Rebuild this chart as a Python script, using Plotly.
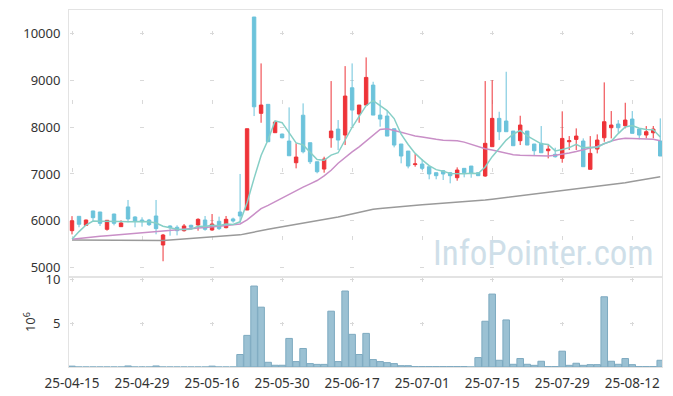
import plotly.graph_objects as go
from plotly.subplots import make_subplots

dates = ["25-04-15","25-04-16","25-04-17","25-04-18","25-04-21","25-04-22","25-04-23","25-04-24","25-04-25","25-04-28",
         "25-04-29","25-04-30","25-05-02","25-05-07","25-05-08","25-05-09","25-05-12","25-05-13","25-05-14","25-05-15",
         "25-05-16","25-05-19","25-05-20","25-05-21","25-05-22","25-05-23","25-05-26","25-05-27","25-05-28","25-05-29",
         "25-05-30","25-06-02","25-06-04","25-06-05","25-06-09","25-06-10","25-06-11","25-06-12","25-06-13","25-06-16",
         "25-06-17","25-06-18","25-06-19","25-06-20","25-06-23","25-06-24","25-06-25","25-06-26","25-06-27","25-06-30",
         "25-07-01","25-07-02","25-07-03","25-07-04","25-07-07","25-07-08","25-07-09","25-07-10","25-07-11","25-07-14",
         "25-07-15","25-07-16","25-07-17","25-07-18","25-07-21","25-07-22","25-07-23","25-07-24","25-07-25","25-07-28",
         "25-07-29","25-07-30","25-07-31","25-08-01","25-08-04","25-08-05","25-08-06","25-08-07","25-08-08","25-08-11",
         "25-08-12","25-08-13","25-08-14","25-08-18","25-08-19"]

open_ = [5790,6096,5904,6210,6188,5819,6145,5875,6296,6082,
         6017,6017,6103,5484,5890,5862,5789,5904,5911,6017,
         5804,5990,5854,6040,6188,6231,10350,8294,8486,7881,
         7852,7703,7240,8254,7667,7261,7105,7773,7958,7831,
         8840,8279,8471,8897,8257,8236,7965,7639,7489,7200,
         7212,7155,7027,7070,7027,6920,7120,7169,7027,6956,
         7582,8187,8130,7916,7710,7916,7639,7654,7496,7419,
         7333,7688,7738,7703,7099,7532,7773,7987,8066,8030,
         8172,7958,7831,7880,7703]
high = [6100,6100,6025,6215,6190,6015,6150,6011,6445,6096,
        6075,6040,6445,5719,5904,5904,5932,5918,6054,6103,
        6145,6089,6103,6068,7000,7966,10350,9360,8486,8120,
        7860,8421,7654,8507,7667,7261,7368,8983,8151,9302,
        9360,8471,9488,8968,8577,8349,7965,7639,7489,7425,
        7318,7155,7027,7084,7041,7141,7120,7169,7027,8983,
        9004,8328,9182,7916,8243,7916,7639,8023,7639,7560,
        8337,7809,7973,7760,7809,7845,8955,8343,8151,8520,
        8343,7958,8023,8023,8187]
low = [5710,5862,5890,5997,5890,5789,5904,5870,5968,5862,
       5875,5890,5712,5137,5683,5690,5770,5830,5789,5789,
       5789,5804,5840,5961,5961,6231,8236,8093,7688,7881,
       7760,7389,7120,7440,7212,7014,7027,7560,7511,7617,
       8009,8093,8471,8257,8009,7809,7568,7227,7120,7155,
       7084,6886,6886,6871,6800,6856,6928,6920,6956,6941,
       7582,7724,7902,7603,7617,7617,7404,7453,7333,7350,
       7240,7511,7511,7155,7099,7440,7688,7760,7880,7973,
       7867,7739,7760,7760,7383]
close = [6000,5926,6017,6067,5947,6011,5947,5954,6040,5996,
         5982,5918,5833,5697,5854,5789,5890,5862,6032,5819,
         5932,5833,6032,5996,6103,7966,8434,8471,7688,8108,
         7773,7389,7361,7474,7261,7048,7318,7916,7724,8663,
         8364,8471,9061,8257,8172,7809,7617,7383,7169,7215,
         7120,7000,6963,7000,6963,7084,7027,7014,6963,7654,
         8187,7902,7902,7603,8044,7617,7496,7453,7532,7368,
         7759,7710,7809,7155,7440,7724,8115,8044,7987,8151,
         7867,7831,7902,7958,7383]

ma5 = [5606,5770,5910,5996,5991,5994,5998,5985,5980,5990,
       5984,5978,5954,5885,5857,5818,5813,5818,5885,5878,
       5907,5896,5930,5922,5979,6386,6906,7394,7732,8133,
       8095,7886,7664,7621,7452,7307,7292,7403,7453,7734,
       7997,8228,8457,8563,8465,8354,8183,7848,7630,7439,
       7301,7177,7093,7060,7009,7002,7007,7018,7010,7148,
       7369,7544,7722,7850,7928,7814,7732,7643,7628,7493,
       7522,7562,7634,7558,7573,7566,7649,7696,7862,8004,
       8033,7976,7948,7942,7788]
ma20 = [5606,5625,5640,5655,5668,5680,5692,5705,5718,5730,
        5745,5755,5765,5778,5790,5800,5810,5830,5845,5860,
        5872,5885,5900,5915,5932,6020,6150,6260,6330,6410,
        6480,6560,6640,6720,6790,6860,6960,7080,7230,7360,
        7470,7580,7700,7840,7950,7965,7935,7890,7850,7810,
        7790,7760,7740,7720,7715,7710,7680,7630,7585,7540,
        7510,7475,7440,7410,7400,7395,7385,7383,7385,7400,
        7420,7450,7480,7525,7555,7585,7640,7705,7740,7760,
        7755,7750,7745,7740,7710]
ma60 = [5592,5590,5588,5586,5585,5584,5583,5582,5581,5580,
        5580,5579,5578,5580,5590,5600,5610,5620,5632,5643,
        5653,5664,5675,5688,5700,5730,5765,5795,5820,5845,
        5870,5895,5920,5945,5970,5995,6020,6045,6080,6115,
        6150,6185,6220,6245,6265,6280,6295,6308,6320,6332,
        6342,6352,6362,6372,6382,6393,6403,6415,6430,6445,
        6462,6480,6497,6514,6531,6548,6565,6582,6600,6618,
        6636,6654,6672,6690,6707,6725,6745,6768,6790,6812,
        6840,6865,6890,6915,6941]

volume = [0.10,0,0,0,0,0,0,0,0.12,0,
          0,0,0.12,0,0,0,0,0,0,0,
          0.10,0,0,0,1.43,3.62,9.27,6.85,0.54,0.20,
          0.20,3.27,0.62,2.12,0.39,0.30,0.30,6.39,0.62,8.70,
          3.74,1.43,3.85,0.85,0.62,0.50,0.39,0.15,0.15,0.05,
          0.05,0.05,0.05,0.05,0.05,0.05,0.05,0,1.08,5.24,
          8.35,0.77,5.39,0.31,0.97,0.31,0.19,0.66,0.05,0.05,
          1.81,0.19,0.43,0.19,0.27,0.27,8.04,0.66,0.31,0.97,
          0.27,0.05,0.05,0.05,0.77]

price_ticks = [5000, 6000, 7000, 8000, 9000, 10000]
price_ticktext = ["5000", "6000", "7000", "8000", "9000", "10000"]
vol_ticks = [5, 10]
vol_ticktext = ["5", "10"]

tick_idx = list(range(0, 85, 10))
tick_dates = [dates[i] for i in tick_idx]

UP = "#ee3338"
DOWN = "#6cc3db"
FRAME = "#e3e3e3"
CROSS = "#d9d9d9"

fig = make_subplots(rows=2, cols=1, shared_xaxes=True, vertical_spacing=0,
                    row_heights=[0.748, 0.252])

fig.add_trace(go.Candlestick(
    x=dates, open=open_, high=high, low=low, close=close,
    increasing=dict(line=dict(color=UP, width=1), fillcolor=UP),
    decreasing=dict(line=dict(color=DOWN, width=1), fillcolor=DOWN),
    whiskerwidth=0, showlegend=False), row=1, col=1)

fig.add_trace(go.Scatter(x=dates, y=ma60, mode="lines",
                         line=dict(color="#9a9a9a", width=1.5), showlegend=False), row=1, col=1)
fig.add_trace(go.Scatter(x=dates, y=ma20, mode="lines",
                         line=dict(color="#c98fc7", width=1.5), showlegend=False), row=1, col=1)
fig.add_trace(go.Scatter(x=dates, y=ma5, mode="lines",
                         line=dict(color="#86cfc6", width=1.5), showlegend=False), row=1, col=1)

fig.add_trace(go.Bar(x=dates, y=volume,
                     marker=dict(color="#9bc1d3", line=dict(color="#7eaac0", width=1)),
                     showlegend=False), row=2, col=1)

font_fam = "Noto Sans, Open Sans, sans-serif"
xr = [-0.43, 84.25]

common_x = dict(type="category", range=xr, showline=True, mirror=True, linecolor=FRAME,
                linewidth=1, showgrid=True, gridcolor=CROSS, gridwidth=1,
                tickmode="array", tickvals=tick_dates, ticktext=tick_dates,
                zeroline=False, automargin=False)

# the page body keeps its default 8px margin, so the figure is sized to fit inside it
fig.update_layout(
    width=665, height=388,
    margin=dict(l=61, r=11, t=2, b=29, autoexpand=False),
    paper_bgcolor="white", plot_bgcolor="white",
    font=dict(family=font_fam, size=13, color="#333333"),
    bargap=0.06,
    showlegend=False,
    xaxis=dict(**common_x, showticklabels=False, rangeslider=dict(visible=False),
               griddash="0px,21.4px,4px,42.84px"),
    xaxis2=dict(**common_x, showticklabels=True, ticks="outside", ticklen=4,
                tickcolor="rgba(0,0,0,0)", tickfont=dict(size=13.5, color="#333333"),
                griddash="0px,0.6px,4px,39.7px"),
    yaxis=dict(range=[4800, 10500], tickmode="array", tickvals=price_ticks, ticktext=price_ticktext,
               showline=True, mirror=True, linecolor=FRAME, showgrid=True,
               gridcolor=CROSS, griddash="0px,1px,4px,65.03px", automargin=False,
               ticks="outside", ticklen=5, tickcolor="rgba(0,0,0,0)", zeroline=False),
    yaxis2=dict(range=[0, 10.3], tickmode="array", tickvals=vol_ticks, ticktext=vol_ticktext,
                showline=True, mirror=True, linecolor=FRAME, showgrid=True,
                gridcolor=CROSS, griddash="0px,1px,4px,65.03px", automargin=False,
                ticks="outside", ticklen=5, tickcolor="rgba(0,0,0,0)", zeroline=False,
                title=dict(text="10<sup>6</sup>", standoff=6, font=dict(size=13))),
)

fig.add_annotation(text="InfoPointer.com", xref="paper", yref="paper",
                   x=0.99, y=0.255, xanchor="right", yanchor="bottom", showarrow=False,
                   font=dict(family="Liberation Sans Narrow, Roboto Condensed, Noto Sans, sans-serif",
                             size=35, color="#cfdfe9"))

fig.write_html("out.html")
